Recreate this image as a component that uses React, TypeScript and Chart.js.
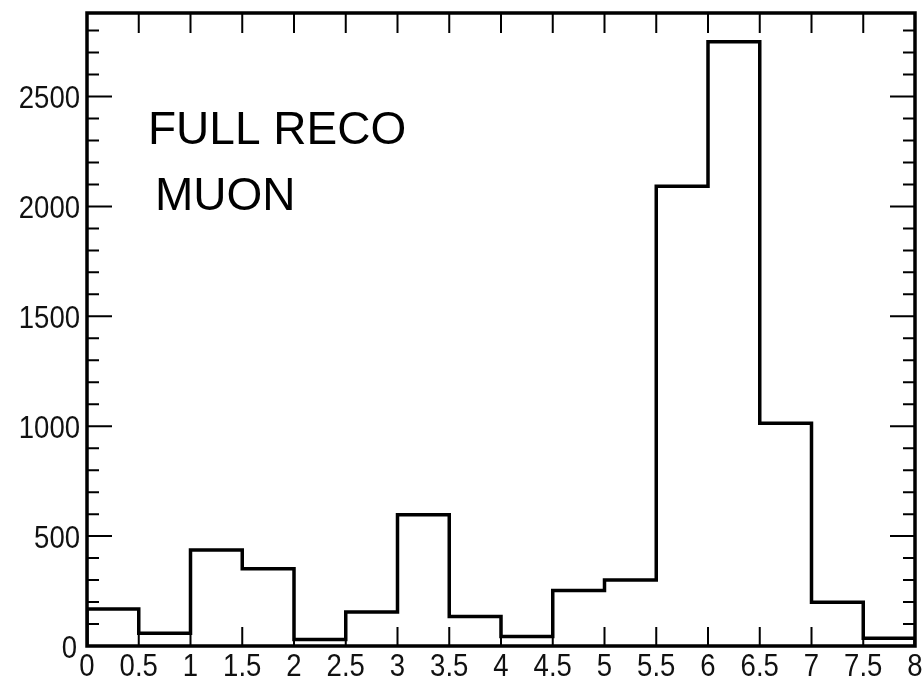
import React, { useEffect, useRef } from "react";
import { Chart, registerables } from "chart.js";

Chart.register(...registerables);

// Histogram bins: lower edges (width 0.5) and counts per bin
const binEdges = [0, 0.5, 1, 1.5, 2, 2.5, 3, 3.5, 4, 4.5, 5, 5.5, 6, 6.5, 7, 7.5, 8];
const counts = [168, 58, 437, 351, 30, 155, 597, 134, 43, 252, 300, 2092, 2749, 1014, 199, 35];

// Axis tick labels
const xTickValues = [0, 0.5, 1, 1.5, 2, 2.5, 3, 3.5, 4, 4.5, 5, 5.5, 6, 6.5, 7, 7.5, 8];
const yTickValues = [0, 500, 1000, 1500, 2000, 2500];
const yMinorStep = 100;
const xRange = [0, 8];
const yRange = [0, 2880];

const titleLines = ["FULL RECO", "MUON"];

const FONT = "'Liberation Sans', Arial, Helvetica, sans-serif";
const LABEL_SIZE = 32;
const LABEL_SQUEEZE = 0.86;

// Step outline of the histogram, closed down to zero at both ends
function histogramPoints() {
  const pts: { x: number; y: number }[] = [{ x: binEdges[0], y: 0 }];
  counts.forEach((c, i) => pts.push({ x: binEdges[i], y: c }));
  const last = binEdges[binEdges.length - 1];
  pts.push({ x: last, y: counts[counts.length - 1] });
  pts.push({ x: last, y: 0 });
  return pts;
}

// Narrow tick label drawn with a horizontal squeeze
function drawLabel(ctx: CanvasRenderingContext2D, text: string, x: number, y: number, align: "center" | "right") {
  ctx.save();
  ctx.translate(x, y);
  ctx.scale(LABEL_SQUEEZE, 1);
  ctx.textAlign = align;
  ctx.textBaseline = "alphabetic";
  ctx.fillText(text, 0, 0);
  ctx.restore();
}

// Frame, inward ticks on all four sides, tick labels and the text box
const framePlugin = {
  id: "frameTicks",
  afterDatasetsDraw(chart: any) {
    const { ctx, chartArea: a, scales } = chart;
    const xs = scales.x;
    const ys = scales.y;
    ctx.save();
    ctx.strokeStyle = "#000";
    ctx.lineCap = "butt";

    // x ticks: bottom pointing up, top pointing down
    ctx.lineWidth = 2;
    ctx.beginPath();
    xs.ticks.forEach((t: any) => {
      const px = xs.getPixelForValue(t.value);
      ctx.moveTo(px, a.bottom);
      ctx.lineTo(px, a.bottom - 19);
      ctx.moveTo(px, a.top);
      ctx.lineTo(px, a.top + 20);
    });
    // y ticks: major at each label, minor every 100
    for (let v = yRange[0]; v <= yRange[1]; v += yMinorStep) {
      const py = ys.getPixelForValue(v);
      const len = yTickValues.includes(v) ? 25 : 12;
      ctx.moveTo(a.left, py);
      ctx.lineTo(a.left + len, py);
      ctx.moveTo(a.right, py);
      ctx.lineTo(a.right - len, py);
    }
    ctx.stroke();

    // frame
    ctx.lineWidth = 3.5;
    ctx.strokeRect(a.left, a.top, a.right - a.left, a.bottom - a.top);

    // tick labels
    ctx.fillStyle = "#111";
    ctx.font = `${LABEL_SIZE}px ${FONT}`;
    xs.ticks.forEach((t: any) => {
      drawLabel(ctx, String(t.value), xs.getPixelForValue(t.value), a.bottom + 30, "center");
    });
    ys.ticks.forEach((t: any) => {
      // the zero label sits a little further left to clear the x-axis zero
      const gap = t.value === 0 ? 10 : 7;
      drawLabel(ctx, String(t.value), a.left - gap, ys.getPixelForValue(t.value) + 11.5, "right");
    });

    // label text
    ctx.fillStyle = "#000";
    ctx.font = `46px ${FONT}`;
    ctx.textBaseline = "alphabetic";
    ctx.textAlign = "left";
    ctx.fillText(titleLines[0], 148, 144);
    ctx.fillText(titleLines[1], 155, 210);
    ctx.restore();
  },
};

export default function App() {
  const ref = useRef<HTMLCanvasElement>(null);

  useEffect(() => {
    if (!ref.current) return;
    const chart = new Chart(ref.current, {
      type: "line",
      data: {
        datasets: [
          {
            data: histogramPoints(),
            stepped: "before",
            borderColor: "#000",
            borderWidth: 3.5,
            pointRadius: 0,
            fill: false,
          },
        ],
      },
      options: {
        animation: false,
        responsive: false,
        devicePixelRatio: 1,
        layout: { padding: { top: 13, right: 9, left: 0, bottom: 0 } },
        plugins: { legend: { display: false }, tooltip: { enabled: false } },
        scales: {
          x: {
            type: "linear",
            min: xRange[0],
            max: xRange[1],
            grid: { display: false, drawTicks: false },
            border: { display: false },
            afterBuildTicks: (s: any) => {
              s.ticks = xTickValues.map((v) => ({ value: v }));
            },
            afterFit: (s: any) => {
              s.height = 34;
              s.paddingLeft = 0;
              s.paddingRight = 0;
              s.paddingTop = 0;
              s.paddingBottom = 0;
            },
            ticks: { display: false, autoSkip: false },
          },
          y: {
            type: "linear",
            min: yRange[0],
            max: yRange[1],
            grid: { display: false, drawTicks: false },
            border: { display: false },
            afterBuildTicks: (s: any) => {
              s.ticks = yTickValues.map((v) => ({ value: v }));
            },
            afterFit: (s: any) => {
              s.width = 87;
              s.paddingLeft = 0;
              s.paddingRight = 0;
              s.paddingTop = 0;
              s.paddingBottom = 0;
            },
            ticks: { display: false, autoSkip: false },
          },
        },
      },
      plugins: [framePlugin],
    });
    return () => chart.destroy();
  }, []);

  return (
    <div style={{ position: "fixed", left: 0, top: 0, width: 924, height: 680, background: "#fff" }}>
      <canvas ref={ref} width={924} height={680} style={{ display: "block" }} />
    </div>
  );
}
